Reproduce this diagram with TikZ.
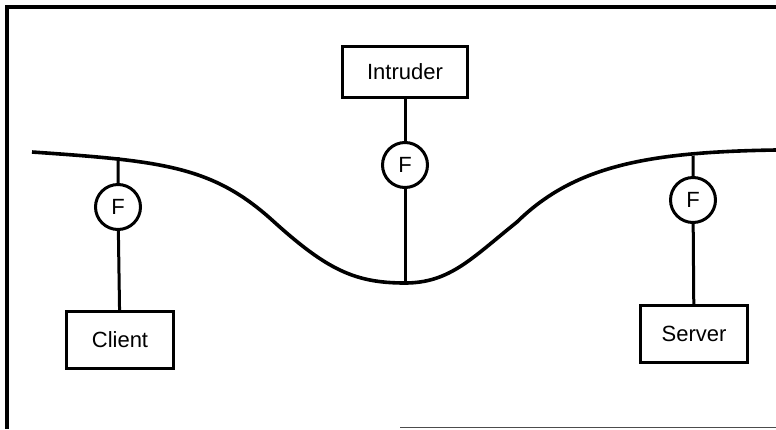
\documentclass[tikz,border=0pt]{standalone}
\usepackage{fontspec}
\setmainfont{Liberation Sans}
\usetikzlibrary{positioning}
\tikzset{
  % plain black strokes, roughly as thick as in the scanned figure
  every picture/.append style = {line width=3pt},
  host/.style   = {draw, rectangle, minimum width=107pt, minimum height=57pt,
                   inner sep=0pt, font=\fontsize{22}{25}\selectfont},
  filt/.style   = {draw, circle, minimum size=45pt, inner sep=0pt,
                   font=\fontsize{22}{25}\selectfont},
  netline/.style = {line width=3.6pt},
  frameline/.style = {line width=3.4pt},
}

\begin{document}
\begin{tikzpicture}[x=1pt,y=-1pt]
  \useasboundingbox (0,0) rectangle (776,429);
  % frame of the scanned figure
  \draw[frameline] (6,7) -- (776,7);
  \draw[frameline] (7,5) -- (7,429);
  \draw[line width=1.4pt, black!70] (400,427.5) -- (776,427.5);
  % the network
  \draw[netline] (32,152) .. controls (162,161) and (212,166) .. (272,220)
                 .. controls (327,270) and (355,283) .. (405,283)
                 .. controls (450,283) and (472,258) .. (517,222)
                 .. controls (575,165) and (650,152) .. (776,150);
  \coordinate (tapC) at (118,157);
  \coordinate (tapI) at (405,283);
  \coordinate (tapS) at (693,156);
  % hosts and their filters
  \node[host, minimum width=125pt, minimum height=51pt] (intruder) at (405,72) {Intruder};
  \node[filt] (fI) at (405,165) {F};
  \node[host] (client) at (120,340) {Client};
  \node[filt] (fC) at (118,207) {F};
  \node[host] (server) at (694,334) {Server};
  \node[filt] (fS) at (693,200) {F};
  % stems
  \draw (intruder) -- (fI) -- (tapI);
  \draw (tapC) -- (fC) -- (client);
  \draw (tapS) -- (fS) -- (server);
\end{tikzpicture}
\end{document}
